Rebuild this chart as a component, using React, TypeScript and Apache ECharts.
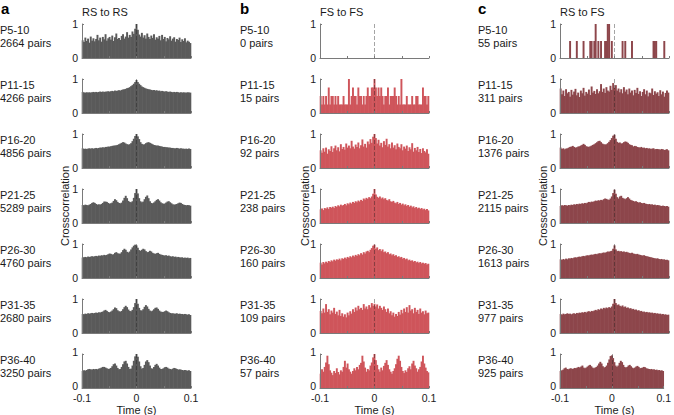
import React, { useEffect, useRef } from "react";
import * as echarts from "echarts";

// ---------- DATA ----------
const ageGroups = ["P5-10", "P11-15", "P16-20", "P21-25", "P26-30", "P31-35", "P36-40"];
const pairsRsRs = [2664, 4266, 4856, 5289, 4760, 2680, 3250];
const pairsFsFs = [0, 15, 92, 238, 160, 109, 57];
const pairsRsFs = [55, 311, 1376, 2115, 1613, 977, 925];
const panelLetters = ["a", "b", "c"];
const panelTitles = ["RS to RS", "FS to FS", "RS to FS"];
const xTickValues = [-0.1, 0, 0.1];
const xTickLabels = ["-0.1", "0", "0.1"];
const yTickLabels = ["0", "1"];
const xTitle = "Time (s)";
const yTitle = "Crosscorrelation";

// crosscorrelation (% of max), 81 bins spanning -0.1 .. 0.1 s
const rsrsP5 = [
  52,47,60,50,57,45,63,51,58, 49,56,68,52,60,48,62,55,70, 51,58,62,54,66,50,61,72,56,
  59,53,65,70,57,63,76,60,68, 62,78,71,86,100,83,69,63,74, 60,67,57,72,62,56,66,59,70,
  54,61,57,65,52,68,56,62,49, 59,55,64,51,57,61,48,56,53, 60,47,55,50,58,46,51,48,44];
const rsrsP11 = [
  62,60,60,61,60,61,60,61,62, 61,62,61,62,63,62,63,62,63, 63,64,63,64,65,64,66,65,66,
  67,66,68,69,70,71,73,74,76, 79,82,86,91,97,91,86,82,78, 76,74,72,71,70,69,68,67,68,
  66,67,65,66,64,65,64,63,64, 63,62,63,62,61,62,61,62,61, 60,61,60,61,60,60,61,60,60];
const rsrsP16 = [
  58,56,57,56,57,58,57,58,57, 58,59,58,59,60,60,61,60,62, 62,63,63,64,65,66,66,67,68,
  70,72,74,76,75,72,70,69,70, 73,79,86,94,100,93,85,76,71, 69,70,73,75,76,74,72,70,68,
  67,66,66,65,64,63,62,62,61, 61,60,60,59,59,58,58,59,58, 57,58,57,57,56,57,56,57,56];
const rsrsP21 = [
  53,52,54,53,52,54,56,59,61, 59,56,54,55,54,56,59,63,63, 62,59,57,58,60,65,70,67,62,
  59,58,60,66,74,80,73,65,62, 61,64,74,88,100,87,73,64,61, 63,70,77,81,73,64,59,58,60,
  64,68,70,66,61,58,57,57,60, 63,64,61,58,55,54,55,56,58, 60,59,56,54,53,52,53,52,51];
const rsrsP26 = [
  60,61,62,61,63,62,63,64,63, 64,65,64,66,65,67,66,68,67, 68,70,72,71,69,70,74,76,73,
  71,72,76,82,86,83,77,75,78, 84,90,95,98,96,89,82,80,83, 86,84,79,76,77,80,78,74,72,
  71,73,74,71,69,68,67,66,67, 65,66,64,63,64,62,63,61,62, 61,60,61,59,60,59,60,58,59];
const rsrsP31 = [
  56,55,57,56,58,57,58,59,58, 59,60,59,61,60,62,63,66,68, 65,62,61,63,66,70,75,73,67,
  64,63,65,70,76,80,76,69,65, 64,68,76,88,100,86,74,67,66, 70,77,82,78,71,66,64,66,70,
  74,75,71,66,63,62,62,64,66, 64,61,59,58,58,57,57,58,56, 57,56,56,55,56,55,54,55,53];
const rsrsP36 = [
  50,52,51,53,55,56,55,54,56, 55,56,55,57,58,60,62,62,60, 58,56,57,59,64,70,72,66,59,
  55,56,62,70,78,80,72,62,56, 57,66,80,93,100,92,78,64,57, 59,68,78,82,76,66,58,57,62,
  68,71,66,60,56,56,58,61,62, 60,57,56,55,57,59,58,56,54, 55,54,53,52,53,52,51,52,50];

const fsfsP5: number[] = [];
const fsfsP11 = [
  50,25,50,25,50,25,75,25,50, 50,25,50,25,50,25,25,25,50, 25,25,25,100,25,50,75,50,50,
  25,75,50,50,25,50,25,50,75, 50,50,75,75,100,75,50,75,50, 75,50,25,50,50,75,25,50,50,
  50,75,50,25,50,25,100,25,25, 25,50,25,25,25,50,25,25,50, 50,25,25,25,75,50,50,25,50];
const fsfsP16 = [
  52,45,58,48,60,42,55,50,64, 47,58,66,52,61,49,70,56,62, 54,72,60,66,58,80,63,57,69,
  62,75,58,67,84,63,71,60,78, 70,85,74,92,100,88,72,83,66, 74,61,79,68,86,63,70,58,75,
  60,67,55,72,62,58,70,52,63, 57,66,50,61,55,73,48,59,52, 62,47,56,44,58,50,46,55,42];
const fsfsP21 = [
  40,43,38,44,42,46,41,47,45, 48,44,50,47,52,49,54,51,53, 56,52,58,55,60,57,62,59,64,
  61,66,63,68,65,72,69,74,71, 76,73,78,86,100,84,77,74,78, 72,75,70,73,68,66,70,64,62,
  65,60,58,62,56,59,54,57,52, 55,50,53,48,51,46,49,44,47, 43,45,41,44,40,42,38,41,37];
const fsfsP26 = [
  45,40,47,43,48,45,50,47,52, 49,54,51,55,53,57,52,58,56, 60,57,62,59,64,61,66,63,68,
  65,70,67,73,69,76,72,78,80, 76,83,88,95,98,86,90,82,85, 79,84,76,78,73,76,70,72,67,
  70,65,67,62,64,60,62,57,59, 55,57,52,54,50,52,48,50,46, 48,44,47,43,45,42,44,40,42];
const fsfsP31 = [
  65,58,72,60,85,62,70,55,66, 60,74,56,63,52,68,50,58,48, 55,46,60,52,64,57,70,62,75,
  66,80,70,74,68,85,72,78,70, 82,75,88,80,86,78,84,72,80, 74,68,78,70,62,72,58,64,52,
  60,48,56,50,62,54,68,58,72, 62,76,60,82,66,70,58,74,62, 68,56,72,60,64,55,66,58,60];
const fsfsP36 = [
  42,55,48,62,75,95,70,52,45, 38,50,44,58,47,40,52,48,62, 80,60,72,55,48,42,50,58,52,
  62,55,68,74,95,78,60,48,56, 52,66,75,90,100,82,68,55,48, 60,52,65,74,82,68,55,48,42,
  50,58,70,86,95,80,62,50,44, 52,47,58,64,55,72,80,66,58, 48,55,62,78,95,72,60,50,46];

const rsfsP5 = [
  0,0,0,0,0,0,0,50,0, 0,0,0,50,0,0,0,0,50, 0,0,0,0,50,50,0,50,100,
  0,50,0,50,0,0,50,50,100, 100,0,50,0,0,0,0,0,0, 0,50,0,50,0,0,0,0,50,
  0,0,0,0,0,0,0,0,0, 0,0,0,0,0,0,50,50,50, 0,0,0,0,0,50,0,0,0];
const rsfsP11 = [
  72,55,66,50,70,58,62,48,68, 54,63,71,52,60,47,66,58,74, 51,62,57,69,53,78,60,65,56,
  70,58,64,85,62,72,59,76,66, 63,80,68,88,74,82,66,72,61, 70,58,76,63,69,55,72,60,66,
  52,68,59,74,56,64,50,62,70, 55,66,49,60,58,72,53,64,57, 61,50,67,55,63,48,59,66,60];
const rsfsP16 = [
  60,56,58,55,57,58,60,62,63, 65,62,60,61,63,64,66,68,71, 68,64,63,62,64,66,68,70,73,
  76,79,80,76,72,70,69,70,73, 77,82,88,95,98,86,77,74,75, 72,73,76,78,77,74,70,68,67,
  63,65,64,62,61,60,62,59,60, 58,59,57,58,56,57,58,55,56, 56,55,54,56,55,53,54,55,52];
const rsfsP21 = [
  50,52,51,53,52,51,53,52,54, 53,55,54,56,55,57,56,58,57, 59,58,60,62,61,63,62,64,66,
  65,67,66,68,67,70,72,71,69, 68,72,78,88,98,86,76,72,78, 80,74,72,70,73,76,72,68,66,
  65,63,64,62,60,61,59,58,59, 57,56,55,56,54,55,53,54,52, 53,52,51,50,51,50,49,50,48];
const rsfsP26 = [
  55,53,56,54,57,55,58,57,59, 58,60,61,60,62,63,62,64,65, 64,66,67,66,68,69,68,70,71,
  70,72,73,72,74,75,74,76,78, 77,79,80,86,96,84,79,80,78, 79,77,78,76,77,75,74,73,74,
  72,71,70,71,69,68,67,66,67, 65,64,63,62,61,60,59,58,57, 58,56,55,56,54,55,53,54,52];
const rsfsP31 = [
  56,54,57,55,56,58,56,57,55, 57,58,56,59,58,60,59,61,60, 62,60,63,64,62,65,64,66,68,
  66,70,68,72,70,74,72,75,73, 76,74,78,86,100,88,82,84,80, 78,81,76,78,74,75,72,73,70,
  71,68,69,66,67,64,65,62,63, 61,62,60,61,59,60,58,59,57, 58,56,57,55,56,54,55,53,54];
const rsfsP36 = [
  50,52,54,58,60,56,55,57,58, 56,57,59,58,60,62,60,63,66, 60,58,60,63,66,68,64,60,58,
  60,62,66,72,77,72,64,60,62, 66,74,84,94,96,88,76,66,62, 66,74,80,76,68,62,60,62,66,
  68,64,60,58,60,63,65,62,58, 59,60,62,61,58,57,56,55,56, 54,55,53,54,52,53,51,52,50];

const rsrsData = [rsrsP5, rsrsP11, rsrsP16, rsrsP21, rsrsP26, rsrsP31, rsrsP36];
const fsfsData = [fsfsP5, fsfsP11, fsfsP16, fsfsP21, fsfsP26, fsfsP31, fsfsP36];
const rsfsData = [rsfsP5, rsfsP11, rsfsP16, rsfsP21, rsfsP26, rsfsP31, rsfsP36];

// ---------- STYLE / LAYOUT ----------
const FONT = '"Liberation Sans", Arial, Helvetica, sans-serif';
const TEXT = "#1a1a1a";
const AXIS = "#7a7a7a";
const colColors = ["#5a5a5a", "#cf555b", "#8d464b"];
const colLeft = [82, 320, 560];
const labelX = [0, 240, 478];
const letterX = [1, 240, 478];
const yTitleX = [65, 305, 543];
const plotW = 109;
const plotH = 34;
const rowTop0 = 24;
const rowPitch = 55;

function buildOption() {
  const allData = [rsrsData, fsfsData, rsfsData];
  const allPairs = [pairsRsRs, pairsFsFs, pairsRsFs];
  const grid: any[] = [];
  const xAxis: any[] = [];
  const yAxis: any[] = [];
  const series: any[] = [];
  const graphic: any[] = [];

  for (let c = 0; c < 3; c++) {
    for (let r = 0; r < 7; r++) {
      const idx = c * 7 + r;
      const top = rowTop0 + r * rowPitch;
      const bottomRow = r === 6;
      grid.push({ left: colLeft[c], top, width: plotW, height: plotH, containLabel: false });
      xAxis.push({
        gridIndex: idx,
        type: "value",
        min: -0.1,
        max: 0.1,
        interval: 0.05,
        z: 5,
        axisLine: { show: true, onZero: false, lineStyle: { color: AXIS, width: 1 } },
        axisTick: { show: true, inside: true, length: 2, lineStyle: { color: AXIS } },
        splitLine: { show: false },
        axisLabel: {
          show: bottomRow,
          margin: 4,
          fontSize: 10.5,
          lineHeight: 11,
          fontFamily: FONT,
          color: TEXT,
          formatter: (v: number) => {
            const k = xTickValues.findIndex((t) => Math.abs(t - v) < 1e-9);
            return k >= 0 ? xTickLabels[k] : "";
          },
        },
      });
      yAxis.push({
        gridIndex: idx,
        type: "value",
        min: 0,
        max: 100,
        interval: 100,
        z: 5,
        axisLine: { show: true, onZero: false, lineStyle: { color: AXIS, width: 1 } },
        axisTick: { show: true, inside: true, length: 2, lineStyle: { color: AXIS } },
        splitLine: { show: false },
        axisLabel: {
          margin: 4,
          fontSize: 10.5,
          lineHeight: bottomRow ? 5 : 10,
          verticalAlign: bottomRow ? "bottom" : "middle",
          fontFamily: FONT,
          color: TEXT,
          formatter: (v: number) => (v >= 100 ? yTickLabels[1] : yTickLabels[0]),
        },
      });
      const vals = allData[c][r];
      const n = Math.max(vals.length, 1);
      series.push({
        type: "bar",
        xAxisIndex: idx,
        yAxisIndex: idx,
        silent: true,
        barWidth: plotW / n + 0.6,
        itemStyle: { color: colColors[c] },
        data: vals.map((v, i) => [-0.1 + ((i + 0.5) * 0.2) / n, v]),
        markLine: {
          silent: true,
          symbol: "none",
          label: { show: false },
          lineStyle: { color: "rgba(30,30,30,0.4)", type: "dashed", width: 1 },
          data: [{ xAxis: 0 }],
        },
      });

      graphic.push({
        type: "text",
        x: labelX[c],
        y: 30 + r * rowPitch,
        style: { text: ageGroups[r], fontSize: 11, fontFamily: FONT, fill: TEXT, verticalAlign: "middle" },
      });
      graphic.push({
        type: "text",
        x: labelX[c],
        y: 43 + r * rowPitch,
        style: { text: `${allPairs[c][r]} pairs`, fontSize: 11, fontFamily: FONT, fill: TEXT, verticalAlign: "middle" },
      });
    }
    graphic.push({
      type: "text",
      x: letterX[c],
      y: 8,
      style: { text: panelLetters[c], fontSize: 15, fontWeight: "bold", fontFamily: FONT, fill: "#000", verticalAlign: "middle" },
    });
    graphic.push({
      type: "text",
      x: colLeft[c],
      y: 12,
      style: { text: panelTitles[c], fontSize: 11, fontFamily: FONT, fill: TEXT, verticalAlign: "middle" },
    });
    graphic.push({
      type: "text",
      x: colLeft[c] + plotW / 2,
      y: 409.5,
      style: { text: xTitle, fontSize: 11, lineHeight: 11, fontFamily: FONT, fill: TEXT, align: "center", verticalAlign: "middle" },
    });
    graphic.push({
      type: "text",
      x: yTitleX[c],
      y: rowTop0 + 3 * rowPitch + plotH / 2,
      rotation: Math.PI / 2,
      style: { text: yTitle, fontSize: 11, fontFamily: FONT, fill: TEXT, align: "center", verticalAlign: "middle" },
    });
  }

  return {
    animation: false,
    backgroundColor: "#ffffff",
    grid,
    xAxis,
    yAxis,
    series,
    graphic,
  };
}

export default function App() {
  const ref = useRef<HTMLDivElement>(null);
  useEffect(() => {
    if (!ref.current) return;
    const chart = echarts.init(ref.current, null, { renderer: "svg" });
    chart.setOption(buildOption());
    return () => chart.dispose();
  }, []);
  return (
    <div
      ref={ref}
      style={{ position: "fixed", left: 0, top: 0, width: 674, height: 415, background: "#fff" }}
    />
  );
}
